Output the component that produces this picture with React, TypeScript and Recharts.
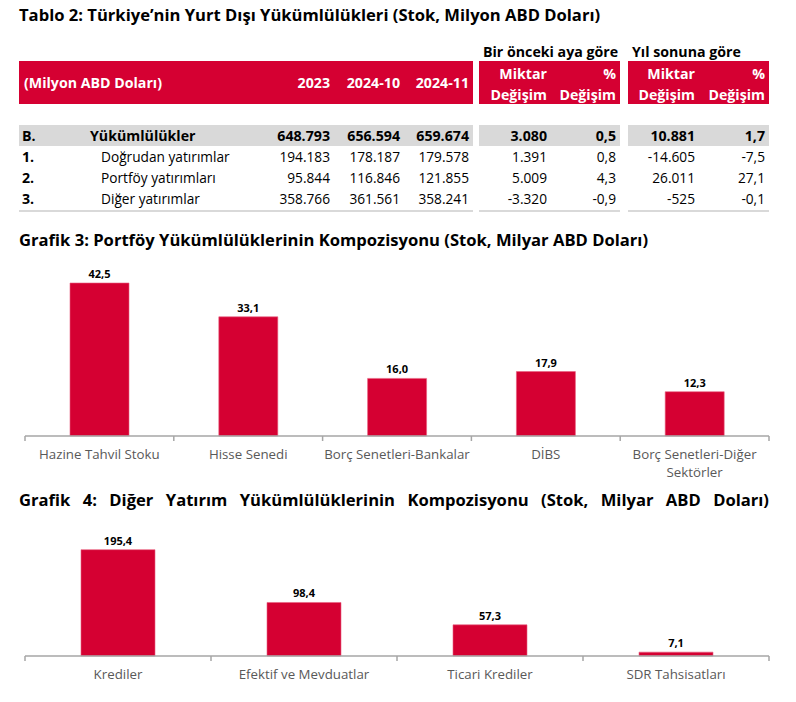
import React from 'react'
import { BarChart, Bar, XAxis, YAxis, LabelList } from 'recharts'

// Tablo 2 verileri
const rowCodes = ['B.', '1.', '2.', '3.']
const rowNames = ['Yükümlülükler', 'Doğrudan yatırımlar', 'Portföy yatırımları', 'Diğer yatırımlar']
const stock2023 = ['648.793', '194.183', '95.844', '358.766']
const stock202410 = ['656.594', '178.187', '116.846', '361.561']
const stock202411 = ['659.674', '179.578', '121.855', '358.241']
const monthChange = ['3.080', '1.391', '5.009', '-3.320']
const monthPct = ['0,5', '0,8', '4,3', '-0,9']
const ytdChange = ['10.881', '-14.605', '26.011', '-525']
const ytdPct = ['1,7', '-7,5', '27,1', '-0,1']

// Grafik 3
const portfolioCategories = ['Hazine Tahvil Stoku', 'Hisse Senedi', 'Borç Senetleri-Bankalar', 'DİBS', 'Borç Senetleri-Diğer Sektörler']
const portfolioValues = [42.5, 33.1, 16.0, 17.9, 12.3]

// Grafik 4
const otherCategories = ['Krediler', 'Efektif ve Mevduatlar', 'Ticari Krediler', 'SDR Tahsisatları']
const otherValues = [195.4, 98.4, 57.3, 7.1]

const RED = '#D50032'
const GRAY_BAND = '#D9D9D9'
const AXIS = '#A6A6A6'
const FONT = '"Open Sans", sans-serif'
const TICK_FONT_SIZE = 13.3
const TICK_MARGIN = 14

const portfolioData = portfolioCategories.map((name, i) => ({ name, value: portfolioValues[i] }))
const otherData = otherCategories.map((name, i) => ({ name, value: otherValues[i] }))

const fmt = (v: any) => Number(v).toFixed(1).replace('.', ',')

// kelimeleri satırlara böl (canvas ile ölç)
let measureCtx: CanvasRenderingContext2D | null = null
function wrapWords(text: string, maxWidth: number): string[] {
  if (!measureCtx) measureCtx = document.createElement('canvas').getContext('2d')
  const ctx = measureCtx!
  ctx.font = `${TICK_FONT_SIZE}px "Open Sans"`
  const words = text.split(' ')
  const lines: string[] = []
  let cur = ''
  for (const w of words) {
    const next = cur ? cur + ' ' + w : w
    if (cur && ctx.measureText(next).width > maxWidth) {
      lines.push(cur)
      cur = w
    } else {
      cur = next
    }
  }
  if (cur) lines.push(cur)
  return lines
}

function CatTick(props: any) {
  const { x, y, payload, index, visibleTicksCount } = props
  const lines = wrapWords(String(payload.value), 165)
  const half = Number(payload.offset) || 0
  const axisY = y - TICK_MARGIN
  const isLast = index === visibleTicksCount - 1
  return (
    <g>
      {half > 0 && (
        <line x1={x - half} x2={x - half} y1={axisY} y2={axisY + 5} stroke={AXIS} strokeWidth={1.5} />
      )}
      {half > 0 && isLast && (
        <line x1={x + half} x2={x + half} y1={axisY} y2={axisY + 5} stroke={AXIS} strokeWidth={1.5} />
      )}
      <text x={x} y={y} textAnchor="middle" fill="#595959" fontSize={TICK_FONT_SIZE} fontFamily={FONT}>
        {lines.map((l, i) => (
          <tspan key={i} x={x} dy={i === 0 ? '0.71em' : 18}>{l}</tspan>
        ))}
      </text>
    </g>
  )
}

function CompositionChart({ data, top, height, max, barSize }: { data: any[]; top: number; height: number; max: number; barSize: number }) {
  return (
    <div style={{ position: 'absolute', left: 0, top, width: 796, height }}>
      <BarChart width={796} height={height} data={data} margin={{ top: 8, right: 27, left: 25, bottom: 0 }}>
        <XAxis
          dataKey="name"
          interval={0}
          axisLine={{ stroke: AXIS, strokeWidth: 1.5 }}
          tickLine={false}
          tickSize={0}
          tickMargin={TICK_MARGIN}
          height={54}
          tick={<CatTick />}
        />
        <YAxis hide domain={[0, max]} />
        <Bar dataKey="value" fill={RED} stroke="#E8607F" strokeWidth={0.6} barSize={barSize} isAnimationActive={false}>
          <LabelList dataKey="value" position="top" offset={5} formatter={fmt} fill="#000" fontSize={11} fontWeight={700} fontFamily={FONT} />
        </Bar>
      </BarChart>
    </div>
  )
}

const abs = (left: number, top: number, extra: React.CSSProperties = {}): React.CSSProperties => ({
  position: 'absolute',
  left,
  top,
  whiteSpace: 'nowrap',
  ...extra,
})

// sağa hizalı hücre
function Cell({ right, top, children, bold, color }: any) {
  return (
    <div style={abs(right - 120, top, { width: 120, textAlign: 'right', lineHeight: '21px', fontWeight: bold ? 700 : 400, fontSize: bold ? 14.2 : 13.7, color: color || '#000' })}>
      {children}
    </div>
  )
}

export default function App() {
  const colRight = [330, 400, 469, 547, 616, 695, 765]
  const segments: [number, number][] = [[19, 473], [479, 620], [628, 769]]
  const valueCols = [stock2023, stock202410, stock202411, monthChange, monthPct, ytdChange, ytdPct]

  return (
    <div style={{ position: 'absolute', left: 0, top: 0, width: 796, height: 702, background: '#fff', fontFamily: FONT, fontSize: 13.7, color: '#000', overflow: 'hidden' }}>
      <div style={abs(19, 4, { fontSize: 16.6, fontWeight: 700, lineHeight: '21px' })}>
        Tablo 2: Türkiye’nin Yurt Dışı Yükümlülükleri (Stok, Milyon ABD Doları)
      </div>

      <div style={abs(483, 41, { fontWeight: 700, fontSize: 14.2, lineHeight: '21px' })}>Bir önceki aya göre</div>
      <div style={abs(632, 41, { fontWeight: 700, fontSize: 14.2, lineHeight: '21px' })}>Yıl sonuna göre</div>

      {segments.map(([a, b], i) => (
        <div key={'h' + i} style={{ position: 'absolute', left: a, top: 61, width: b - a, height: 43, background: RED }} />
      ))}
      {segments.map(([a, b], i) => (
        <div key={'g' + i} style={{ position: 'absolute', left: a, top: 125, width: b - a, height: 21, background: GRAY_BAND }} />
      ))}
      {segments.map(([a, b], i) => (
        <div key={'l' + i} style={{ position: 'absolute', left: a, top: 210, width: b - a, height: 2, background: GRAY_BAND }} />
      ))}

      <div style={abs(24, 72, { color: '#fff', fontWeight: 700, fontSize: 14.2, lineHeight: '21px' })}>(Milyon ABD Doları)</div>
      <Cell right={colRight[0]} top={72} bold color="#fff">2023</Cell>
      <Cell right={colRight[1]} top={72} bold color="#fff">2024-10</Cell>
      <Cell right={colRight[2]} top={72} bold color="#fff">2024-11</Cell>
      <Cell right={colRight[3]} top={63} bold color="#fff">Miktar</Cell>
      <Cell right={colRight[3]} top={84} bold color="#fff">Değişim</Cell>
      <Cell right={colRight[4]} top={63} bold color="#fff">%</Cell>
      <Cell right={colRight[4]} top={84} bold color="#fff">Değişim</Cell>
      <Cell right={colRight[5]} top={63} bold color="#fff">Miktar</Cell>
      <Cell right={colRight[5]} top={84} bold color="#fff">Değişim</Cell>
      <Cell right={colRight[6]} top={63} bold color="#fff">%</Cell>
      <Cell right={colRight[6]} top={84} bold color="#fff">Değişim</Cell>

      {rowCodes.map((code, i) => {
        const top = 125 + 21 * i
        const bold = i === 0
        return (
          <React.Fragment key={code}>
            <div style={abs(22, top, { fontWeight: 700, fontSize: 14.2, lineHeight: '21px' })}>{code}</div>
            <div style={abs(bold ? 90 : 101, top, { fontWeight: bold ? 700 : 400, fontSize: bold ? 14.2 : 13.7, lineHeight: '21px' })}>{rowNames[i]}</div>
            {valueCols.map((col, j) => (
              <Cell key={j} right={colRight[j]} top={top} bold={bold}>{col[i]}</Cell>
            ))}
          </React.Fragment>
        )
      })}

      <div style={abs(19, 229, { fontSize: 16.6, fontWeight: 700, lineHeight: '21px' })}>
        Grafik 3: Portföy Yükümlülüklerinin Kompozisyonu (Stok, Milyar ABD Doları)
      </div>
      <CompositionChart data={portfolioData} top={248} height={242} max={50} barSize={59} />

      <div style={{ position: 'absolute', left: 19, top: 489, width: 750, fontSize: 16.6, fontWeight: 700, lineHeight: '21px', textAlign: 'justify', textAlignLast: 'justify' as any }}>
        Grafik 4: Diğer Yatırım Yükümlülüklerinin Kompozisyonu (Stok, Milyar ABD Doları)
      </div>
      <CompositionChart data={otherData} top={512} height={198} max={250} barSize={74} />
    </div>
  )
}
